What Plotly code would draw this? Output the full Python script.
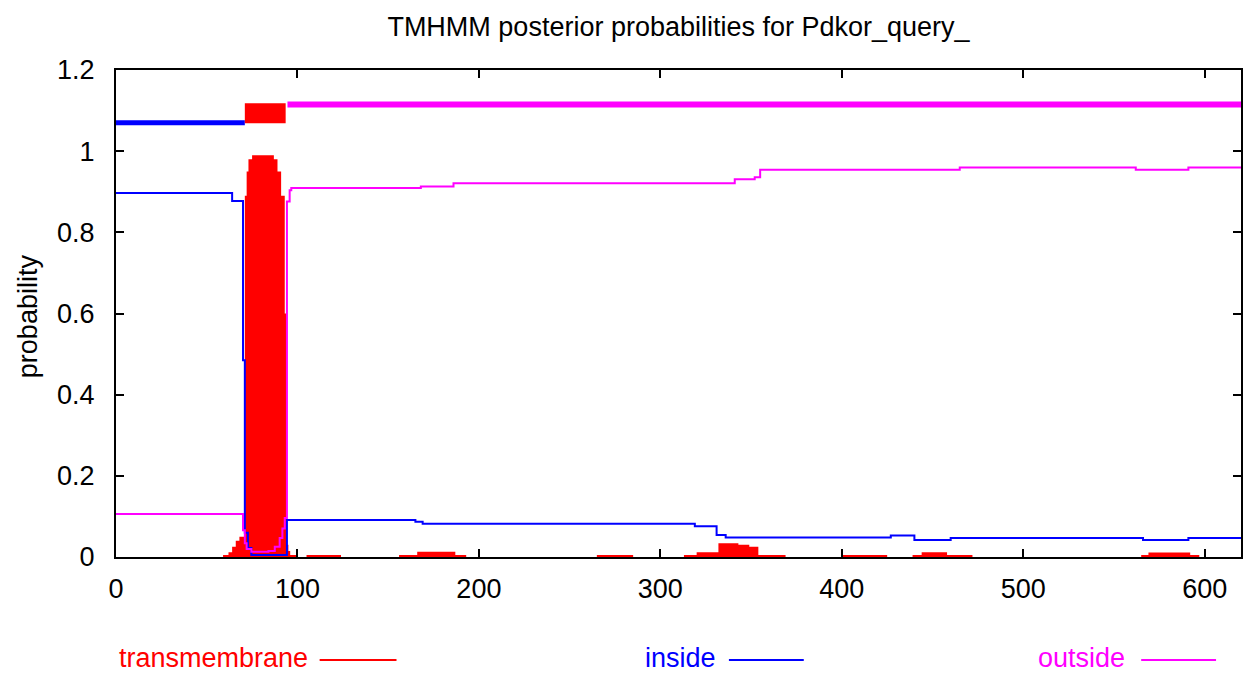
import plotly.graph_objects as go

# ---- data ----
seq_end = 620

# transmembrane posterior (step breakpoints: residue position, probability)
tm_x = [0, 59, 62, 64, 66, 68, 71, 72, 73, 75, 87, 89, 91, 93, 94, 95, 96, 100,
        105, 124, 156, 166, 187, 193, 265, 285, 313, 320, 332, 343, 349, 354, 369,
        400, 425, 439, 444, 458, 472, 565, 569, 592, 597, 620]
tm_p = [0, 0.005, 0.012, 0.025, 0.04, 0.05, 0.89, 0.95, 0.98, 0.99, 0.98, 0.95, 0.89, 0.6,
        0.03, 0.015, 0.005, 0, 0.005, 0, 0.005, 0.013, 0.005, 0, 0.005, 0, 0.005, 0.012,
        0.034, 0.030, 0.025, 0.005, 0, 0.005, 0, 0.005, 0.012, 0.005, 0, 0.005, 0.011,
        0.005, 0, 0]

# inside posterior
in_x = [0, 64, 70, 71, 72.7, 74.6, 94.2, 165, 169, 319, 331, 336, 427, 440, 460, 566, 591, 620]
in_p = [0.897, 0.877, 0.485, 0.06, 0.022, 0.005, 0.091, 0.087, 0.082, 0.076, 0.054,
        0.048, 0.053, 0.042, 0.047, 0.042, 0.047, 0.047]

# outside posterior
out_x = [0, 70, 71, 72, 74.6, 84, 87.5, 90.2, 91.7, 93, 94.2, 95.7, 96.6, 168, 186,
         341, 352, 355, 465, 562, 591, 620]
out_p = [0.106, 0.066, 0.034, 0.02, 0.013, 0.015, 0.025, 0.047, 0.07, 0.096, 0.876,
         0.904, 0.909, 0.913, 0.921, 0.931, 0.936, 0.954, 0.960, 0.954, 0.960, 0.960]

# predicted topology (segments)
topo_from = [0, 71, 94.5]
topo_to = [71, 93.5, 620]
topo_type = ["inside", "TMhelix", "outside"]

x_ticks = [0, 100, 200, 300, 400, 500, 600]
y_ticks = [0, 0.2, 0.4, 0.6, 0.8, 1.0, 1.2]
y_tick_text = ["0", "0.2", "0.4", "0.6", "0.8", "1", "1.2"]

title = "TMHMM posterior probabilities for Pdkor_query_"
legend_names = ["transmembrane", "inside", "outside"]

RED, BLUE, MAG = "#ff0000", "#0000ff", "#ff00ff"
FONT = "Liberation Sans, Arial, Helvetica, sans-serif"
FS = 27

fig = go.Figure()

# transmembrane filled profile
fig.add_trace(go.Scatter(x=tm_x, y=tm_p, mode="lines", line=dict(color=RED, width=0, shape="hv"),
                         fill="tozeroy", fillcolor=RED, showlegend=False, hoverinfo="skip"))
fig.add_trace(go.Scatter(x=in_x, y=in_p, mode="lines", line=dict(color=BLUE, width=2, shape="hv"),
                         showlegend=False))
fig.add_trace(go.Scatter(x=out_x, y=out_p, mode="lines", line=dict(color=MAG, width=2, shape="hv"),
                         showlegend=False))

# topology bars at the top
topo_style = {"inside": (BLUE, 1.07, 5), "TMhelix": (RED, 1.0935, 20), "outside": (MAG, 1.115, 6)}
for a, b, t in zip(topo_from, topo_to, topo_type):
    c, lvl, w = topo_style[t]
    fig.add_trace(go.Scatter(x=[a, b], y=[lvl, lvl], mode="lines", line=dict(color=c, width=w),
                             showlegend=False, hoverinfo="skip"))

# geometry
L, R, T, B = 116, 1243, 70, 557
W, H = 1245, 674
pw, ph = R - L, B - T

def px(xp):
    return (xp - L) / pw

def py(yp):
    return (B - yp) / ph

annotations = []
shapes = []
leg = [(legend_names[0], RED, 309, 320, 397),
       (legend_names[1], BLUE, 718, 730, 805),
       (legend_names[2], MAG, 1128, 1143, 1218)]
for name, col, tx, l0, l1 in leg:
    annotations.append(dict(text=name, x=px(tx), y=py(657.5), xref="paper", yref="paper",
                            xanchor="right", yanchor="middle", showarrow=False, borderpad=0,
                            font=dict(family=FONT, size=FS, color=col)))
    shapes.append(dict(type="line", xref="paper", yref="paper", x0=px(l0), x1=px(l1),
                       y0=py(660), y1=py(660), line=dict(color=col, width=2)))

annotations.append(dict(text="probability", x=px(28), y=py(316), xref="paper", yref="paper",
                        xanchor="center", yanchor="middle", textangle=-90, showarrow=False,
                        font=dict(family=FONT, size=FS, color="black")))

fig.update_layout(
    width=W, height=H,
    margin=dict(l=L, r=W - R, t=T, b=H - B, pad=0),
    paper_bgcolor="white", plot_bgcolor="white",
    title=dict(text=title, x=0.5, xref="paper", y=1 - 27 / H, yanchor="middle",
               font=dict(family=FONT, size=FS, color="black")),
    font=dict(family=FONT, size=FS, color="black"),
    annotations=annotations, shapes=shapes,
    showlegend=False,
)
fig.update_xaxes(range=[0, seq_end], tickvals=x_ticks, ticks="inside", ticklen=8, tickwidth=2,
                 tickcolor="black", showline=True, linecolor="black", linewidth=2, mirror="ticks",
                 showgrid=False, zeroline=False, ticklabelstandoff=7,
                 tickfont=dict(family=FONT, size=FS, color="black"))
fig.update_yaxes(range=[0, 1.2], tickvals=y_ticks, ticktext=y_tick_text, ticks="inside", ticklen=8,
                 tickwidth=2, tickcolor="black", showline=True, linecolor="black", linewidth=2,
                 mirror="ticks", showgrid=False, zeroline=False, ticklabelstandoff=14,
                 tickfont=dict(family=FONT, size=FS, color="black"))

fig.write_html("out.html")
